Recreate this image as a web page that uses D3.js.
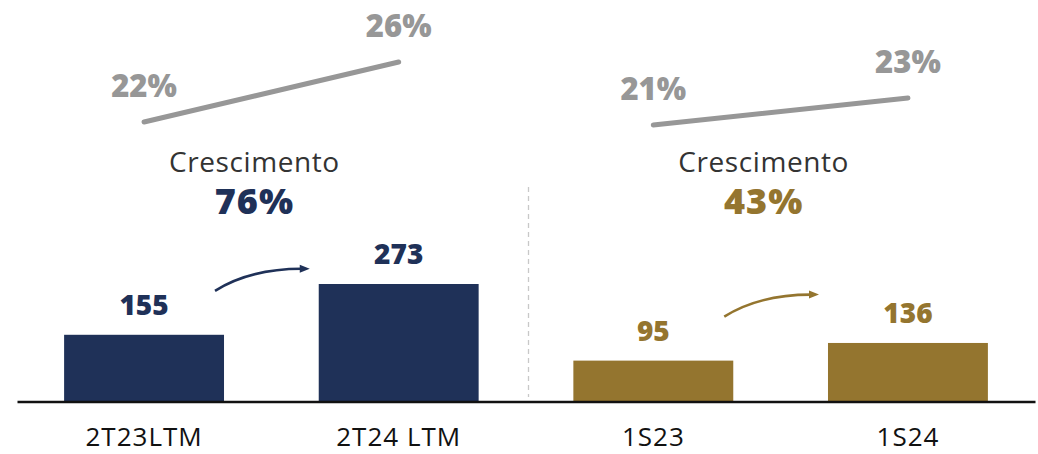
<!DOCTYPE html>
<html>
<head>
<meta charset="utf-8">
<script src="https://cdn.jsdelivr.net/npm/d3@7"></script>
<style>
	body { margin: 0; background: #fff; }
	text { font-family: "Open Sans", "DejaVu Sans", sans-serif; }
</style>
</head>
<body>
<svg id="chart" width="1038" height="454"></svg>
<script>
// Data
var categories = ['2T23LTM', '2T24 LTM', '1S23', '1S24'];
var values = [155, 273, 95, 136];
var groups = ['navy', 'navy', 'gold', 'gold'];
var marginLeft = [22, 26];   // % for 2T23LTM -> 2T24 LTM
var marginRight = [21, 23];  // % for 1S23 -> 1S24
var growthLabels = ['76%', '43%'];
var growthTitle = 'Crescimento';

var colors = {navy: '#1f3158', gold: '#94752f'};
var W = 1038, H = 454, baseY = 401.5;

var svg = d3.select('#chart');

var x = d3.scaleBand()
	.domain(categories)
	.range([17, 1035])
	.paddingInner(0.372)
	.paddingOuter(0.185);

var y = d3.scaleLinear()
	.domain([0, 273])
	.range([baseY, 284]);

function cx(c) { return x(c) + x.bandwidth() / 2; }

// bars
svg.selectAll('rect.bar')
	.data(values)
	.enter().append('rect')
	.attr('class', 'bar')
	.attr('x', (d, i) => x(categories[i]))
	.attr('y', d => y(d))
	.attr('width', x.bandwidth())
	.attr('height', d => baseY - y(d))
	.attr('fill', (d, i) => colors[groups[i]]);

// value labels
svg.selectAll('text.val')
	.data(values)
	.enter().append('text')
	.attr('class', 'val')
	.attr('x', (d, i) => cx(categories[i]))
	.attr('y', d => y(d) - 20)
	.attr('text-anchor', 'middle')
	.attr('font-size', 28)
	.attr('font-weight', 800)
	.attr('fill', (d, i) => colors[groups[i]])
	.text(d => d);

// baseline axis
var xAxis = d3.axisBottom(x).tickSize(0).tickPadding(26);
var gx = svg.append('g')
	.attr('transform', 'translate(0,' + baseY + ')')
	.call(xAxis);
gx.select('.domain').attr('stroke', '#111').attr('stroke-width', 2.6);
gx.selectAll('text')
	.attr('font-size', 26)
	.attr('letter-spacing', 1)
	.attr('font-family', '"Open Sans", sans-serif')
	.attr('fill', '#111');

// dashed separator
svg.append('line')
	.attr('x1', 528.5).attr('x2', 528.5)
	.attr('y1', 187).attr('y2', 397)
	.attr('stroke', '#c8c8c8')
	.attr('stroke-width', 1.3)
	.attr('stroke-dasharray', '5,4');

// margin lines (each panel has its own scale)
var panels = [
	{cats: categories.slice(0, 2), vals: marginLeft, range: [122, 62], color: colors.navy, growth: growthLabels[0]},
	{cats: categories.slice(2, 4), vals: marginRight, range: [125, 98], color: colors.gold, growth: growthLabels[1]}
];

panels.forEach(function(p) {
	var py = d3.scaleLinear().domain(p.vals).range(p.range);
	var line = d3.line()
		.x((d, i) => cx(p.cats[i]))
		.y(d => py(d));
	svg.append('path')
		.datum(p.vals)
		.attr('d', line)
		.attr('fill', 'none')
		.attr('stroke', '#979797')
		.attr('stroke-width', 5)
		.attr('stroke-linecap', 'round');
	svg.selectAll(null)
		.data(p.vals)
		.enter().append('text')
		.attr('x', (d, i) => cx(p.cats[i]))
		.attr('y', d => py(d) - 25.5)
		.attr('text-anchor', 'middle')
		.attr('font-size', 31)
		.attr('font-weight', 800)
		.attr('fill', '#979797')
		.text(d => d + '%');

	var mid = (cx(p.cats[0]) + cx(p.cats[1])) / 2 - 17;
	svg.append('text')
		.attr('x', mid).attr('y', 171.5)
		.attr('text-anchor', 'middle')
		.attr('font-size', 28)
		.attr('letter-spacing', 0.6)
		.attr('fill', '#333')
		.text(growthTitle);
	svg.append('text')
		.attr('x', mid).attr('y', 214)
		.attr('text-anchor', 'middle')
		.attr('font-size', 36)
		.attr('font-weight', 800)
		.attr('letter-spacing', 1)
		.attr('fill', p.color)
		.text(p.growth);

	// arrow between bars
	var v0 = values[categories.indexOf(p.cats[0])];
	var x0 = x(p.cats[0]) + x.bandwidth() - 9;
	var x1 = x(p.cats[1]) - 9;
	var y0 = y(v0) - 44;
	var y1 = y0 - 22;
	var path = d3.path();
	path.moveTo(x0, y0);
	path.quadraticCurveTo(x0 + 35, y1, x1 - 8, y1);
	svg.append('path')
		.attr('d', path.toString())
		.attr('fill', 'none')
		.attr('stroke', p.color)
		.attr('stroke-width', 2.6);
	svg.append('path')
		.attr('d', 'M' + (x1 - 10) + ',' + (y1 - 4) + 'L' + x1 + ',' + y1 + 'L' + (x1 - 10) + ',' + (y1 + 4) + 'Z')
		.attr('fill', p.color);
});
</script>
</body>
</html>
